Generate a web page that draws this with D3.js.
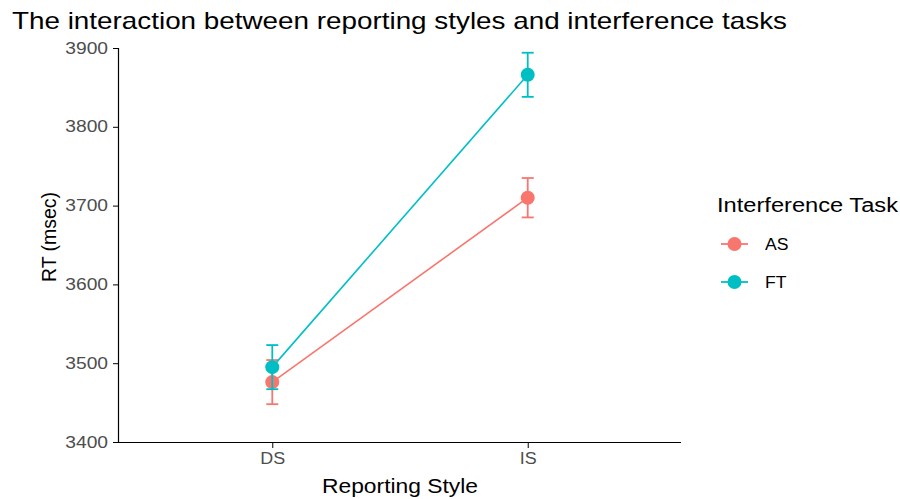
<!DOCTYPE html>
<html lang="en">
<head>
<meta charset="UTF-8">
<title>Reporting styles and interference tasks</title>
<style>
    body { margin: 0; background: #fff; font-family: "Liberation Sans", Arial, sans-serif; }
    .tick text { fill: #4d4d4d; font-size: 16px; }
    .tick line, .domain { stroke: #000; }
</style>
</head>
<body>
<svg id="chart" width="900" height="499"></svg>
<script src="https://d3js.org/d3.v7.min.js"></script>
<script>
    // data
    const styles = ["DS", "IS"];
    const tasks = ["AS", "FT"];
    const colors = ["#F8766D", "#00BFC4"];
    const meanAS = [3476, 3710];
    const meanFT = [3495, 3866];
    const errAS = [28, 25];
    const errFT = [28, 28];
    const yTicks = [3400, 3500, 3600, 3700, 3800, 3900];

    const series = [
        { task: "AS", color: colors[0], means: meanAS, errs: errAS },
        { task: "FT", color: colors[1], means: meanFT, errs: errFT }
    ];

    const svg = d3.select("#chart");
    const margin = { top: 48, right: 219, bottom: 57, left: 119 };
    const width = 900 - margin.left - margin.right;
    const height = 499 - margin.top - margin.bottom;

    const g = svg.append("g").attr("transform", `translate(${margin.left},${margin.top})`);

    // discrete x with ggplot style 0.6 expansion
    const xIdx = d3.scaleLinear().domain([0.4, 2.6]).range([0, width]);
    const x = s => xIdx(styles.indexOf(s) + 1);
    const y = d3.scaleLinear().domain([3400, 3900]).range([height, 0]);

    // the reference font is wider, stretch glyphs to match
    const widen = (sel, f) => sel.each(function () {
        const w = this.getComputedTextLength();
        d3.select(this).attr("textLength", w * f).attr("lengthAdjust", "spacingAndGlyphs");
    });

    // axes
    g.append("g")
        .attr("transform", `translate(0,${height})`)
        .call(d3.axisBottom(xIdx).tickValues([1, 2]).tickFormat(i => styles[i - 1]).tickSize(6).tickPadding(5))
        .call(a => a.select(".domain").attr("d", `M0,0.5H${width}`))
        .call(a => widen(a.selectAll("text"), 1.12));

    g.append("g")
        .call(d3.axisLeft(y).tickValues(yTicks).tickFormat(d3.format("d")).tickSize(6).tickPadding(5))
        .call(a => a.select(".domain").attr("d", `M-0.5,0V${height}`))
        .call(a => widen(a.selectAll("text"), 1.2));

    g.selectAll(".domain").attr("stroke-width", 1.2);

    // series
    const capHalf = 6;
    series.forEach(s => {
        const pts = styles.map((st, i) => ({ st, m: s.means[i], e: s.errs[i] }));
        g.append("path")
            .datum(pts)
            .attr("fill", "none")
            .attr("stroke", s.color)
            .attr("stroke-width", 1.6)
            .attr("d", d3.line().x(d => x(d.st)).y(d => y(d.m)));

        const eb = g.append("g").attr("stroke", s.color).attr("stroke-width", 1.8);
        pts.forEach(d => {
            const cx = x(d.st);
            eb.append("line").attr("x1", cx).attr("x2", cx).attr("y1", y(d.m - d.e)).attr("y2", y(d.m + d.e));
            eb.append("line").attr("x1", cx - capHalf).attr("x2", cx + capHalf).attr("y1", y(d.m + d.e)).attr("y2", y(d.m + d.e));
            eb.append("line").attr("x1", cx - capHalf).attr("x2", cx + capHalf).attr("y1", y(d.m - d.e)).attr("y2", y(d.m - d.e));
        });

        g.selectAll(null)
            .data(pts)
            .enter().append("circle")
            .attr("cx", d => x(d.st))
            .attr("cy", d => y(d.m))
            .attr("r", 7)
            .attr("fill", s.color);
    });

    // titles
    svg.append("text")
        .attr("x", 12).attr("y", 29)
        .attr("font-size", 24)
        .attr("textLength", 775).attr("lengthAdjust", "spacingAndGlyphs")
        .text("The interaction between reporting styles and interference tasks");

    svg.append("text")
        .attr("x", margin.left + width / 2).attr("y", 493)
        .attr("text-anchor", "middle")
        .attr("font-size", 20)
        .attr("textLength", 156).attr("lengthAdjust", "spacingAndGlyphs")
        .text("Reporting Style");

    svg.append("text")
        .attr("transform", `translate(56,237) rotate(-90)`)
        .attr("text-anchor", "middle")
        .attr("font-size", 20)
        .attr("textLength", 90).attr("lengthAdjust", "spacingAndGlyphs")
        .text("RT (msec)");

    // legend
    const lg = svg.append("g").attr("transform", "translate(717,0)");
    lg.append("text").attr("x", 0).attr("y", 212).attr("font-size", 20)
        .attr("textLength", 181).attr("lengthAdjust", "spacingAndGlyphs")
        .text("Interference Task");
    series.forEach((s, i) => {
        const ly = 244 + i * 38;
        lg.append("line").attr("x1", 4).attr("x2", 31).attr("y1", ly).attr("y2", ly)
            .attr("stroke", s.color).attr("stroke-width", 1.8);
        lg.append("circle").attr("cx", 17.5).attr("cy", ly).attr("r", 7).attr("fill", s.color);
        lg.append("text").attr("x", 48).attr("y", ly + 6).attr("font-size", 16).attr("fill", "#000")
            .text(s.task)
            .call(t => widen(t, 1.1));
    });
</script>
</body>
</html>
